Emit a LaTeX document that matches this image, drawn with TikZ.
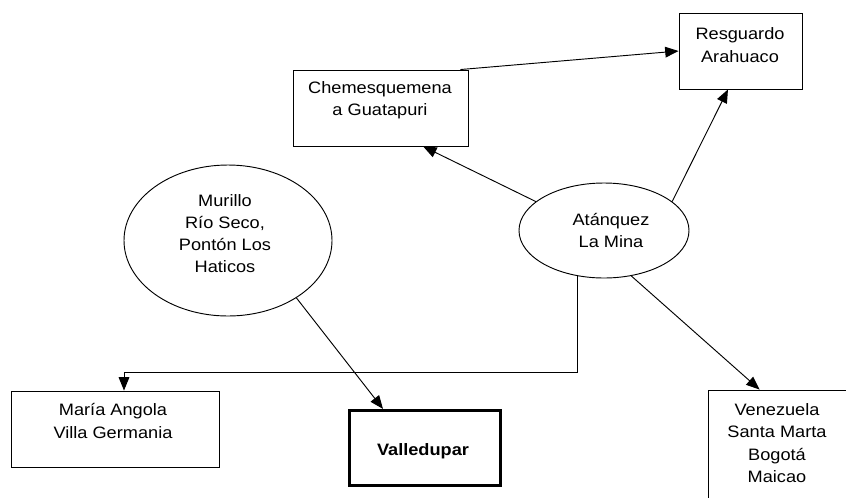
\documentclass[tikz,border=0pt]{standalone}
\usepackage{fontspec}
\setmainfont{Liberation Sans}[FakeStretch=1.1]
\usetikzlibrary{shapes.geometric,arrows.meta}
\begin{document}
\begin{tikzpicture}[x=0.75pt,y=-0.75pt,
  box/.style={draw,line width=0.7pt,rectangle,inner sep=0pt},
  oval/.style={draw,line width=0.7pt,ellipse,inner sep=0pt},
  txt/.style={inner sep=0pt,align=center,font=\fontsize{12.4}{16.7}\selectfont},
  arr/.style={line width=0.7pt,-{Triangle[length=10pt,width=8pt]}}]
\useasboundingbox (0,0) rectangle (846,497);
\clip (0,0) rectangle (846,497);
\fill[white] (0,0) rectangle (846,497);
% boxes
\node[box,minimum width=92.25pt,minimum height=57pt] (res) at (740.5,51) {};
\node[txt] (restx) at (740,45) {Resguardo\\Arahuaco};
\node[box,minimum width=131.25pt,minimum height=57pt] (chem) at (380.5,108) {};
\node[txt] (chemtx) at (380,100.5) {Chemesquemena\\a Guatapuri};
\node[box,minimum width=156pt,minimum height=57pt] (maria) at (115,429) {};
\node[txt] (mariatx) at (113,421) {María Angola\\Villa Germania};
\node[box,line width=2.4pt,minimum width=113.25pt,minimum height=56.25pt] (vall) at (425,448) {};
\node[txt,font=\fontsize{12.4}{16.7}\selectfont\bfseries] (valltx) at (423,451) {Valledupar};
\node[box,minimum width=105pt,minimum height=90pt] (ven) at (778,450) {};
\node[txt] (ventx) at (777,443) {Venezuela\\Santa Marta\\Bogotá\\Maicao};
% ellipses
\node[oval,minimum width=156pt,minimum height=113.25pt] (mur) at (228,240.5) {};
\node[txt] (murtx) at (225,233.5) {Murillo\\Río Seco,\\Pontón Los\\Haticos};
\node[oval,minimum width=127.5pt,minimum height=71.25pt] (ata) at (604,230.5) {};
\node[txt] (atatx) at (611,230.5) {Atánquez\\La Mina};
% helper coordinates
\coordinate (elb) at (0,372);
\coordinate (mtop) at ([xshift=6.75pt]maria.north);
% connectors
\draw[arr] ([xshift=-6pt]chem.north east) -- (res.west);
\draw[arr] (ata.157) -- ([xshift=32pt]chem.south);
\draw[arr] (ata.23) -- ([xshift=-9.4pt]res.south);
\draw[arr] (ata.-59) -- ([xshift=39pt]ven.north west);
\draw[arr] (ata.240) -- (ata.240 |- elb) -| (mtop);
\draw[arr] (mur.-40) -- ([xshift=-31.5pt]vall.north);
\end{tikzpicture}
\end{document}
